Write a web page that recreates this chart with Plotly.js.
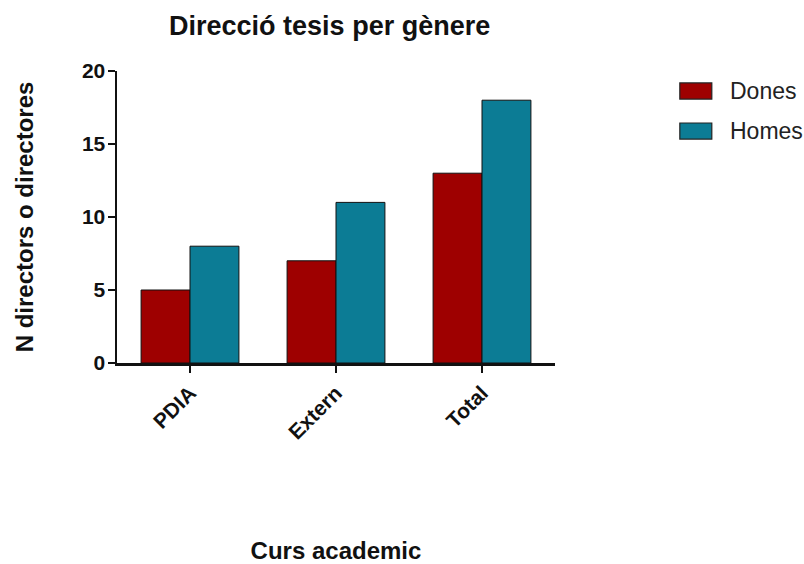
<!DOCTYPE html>
<html>
<head>
<meta charset="utf-8">
<script src="https://cdn.plot.ly/plotly-3.0.1.min.js"></script>
<style>html,body{margin:0;padding:0;background:#fff;}#chart{width:804px;height:564px;}</style>
</head>
<body>
<div id="chart"></div>
<script>
const categories = ["PDIA", "Extern", "Total"];
const seriesNames = ["Dones", "Homes"];
const dones = [5, 7, 13];
const homes = [8, 11, 18];
const yTicks = [0, 5, 10, 15, 20];
const colors = ["#9E0000", "#0C7C95"];

const font = "Liberation Sans, Arial, sans-serif";
const traces = [dones, homes].map((vals, i) => ({
  type: "bar",
  name: seriesNames[i],
  x: categories,
  y: vals,
  marker: {color: colors[i], line: {color: "#111", width: 1}},
  showlegend: false,
  hoverinfo: "x+y+name"
}));

const shapes = [];
const annotations = [];
seriesNames.forEach((n, i) => {
  const yTop = 0.959 - i * 0.137;
  shapes.push({type: "rect", xref: "paper", yref: "paper",
    x0: 1.285, x1: 1.358, y0: yTop - 0.055, y1: yTop,
    fillcolor: colors[i], line: {color: "#222", width: 1.2}});
  annotations.push({xref: "paper", yref: "paper", x: 1.395, y: yTop - 0.028,
    xanchor: "left", yanchor: "middle", showarrow: false, text: n,
    font: {family: font, size: 23, color: "#222"}});
});

const layout = {
  width: 804, height: 564,
  margin: {l: 117, r: 249, t: 71, b: 201},
  paper_bgcolor: "#fff", plot_bgcolor: "#fff",
  font: {family: font, color: "#111"},
  title: {text: "<b>Direcció tesis per gènere</b>", x: 0.41, xanchor: "center", y: 0.955, yanchor: "middle",
    font: {family: font, size: 27, color: "#111"}},
  barmode: "group", bargap: 0.33, bargroupgap: 0,
  xaxis: {
    type: "category", range: [-0.5, 2.5],
    showline: true, linecolor: "#111", linewidth: 2.5,
    ticks: "outside", ticklen: 7, tickwidth: 2.5, tickcolor: "#111",
    tickangle: -45, showgrid: false, zeroline: false,
    tickfont: {family: font, size: 21, color: "#111", weight: "bold"},
    title: {text: "<b>Curs academic</b>", font: {family: font, size: 24, color: "#111"}, standoff: 100}
  },
  yaxis: {
    range: [0, 20], tickvals: yTicks, ticktext: yTicks.map(String),
    showline: true, linecolor: "#111", linewidth: 2.5,
    ticks: "outside", ticklen: 7, tickwidth: 2.5, tickcolor: "#111",
    showgrid: false, zeroline: false, ticklabelstandoff: -2,
    tickfont: {family: font, size: 21, color: "#111", weight: "bold"},
    title: {text: "<b>N directors o directores</b>", font: {family: font, size: 24, color: "#111"}, standoff: 42}
  },
  shapes: shapes,
  annotations: annotations
};

Plotly.newPlot("chart", traces, layout, {displayModeBar: false, staticPlot: true});
</script>
</body>
</html>
